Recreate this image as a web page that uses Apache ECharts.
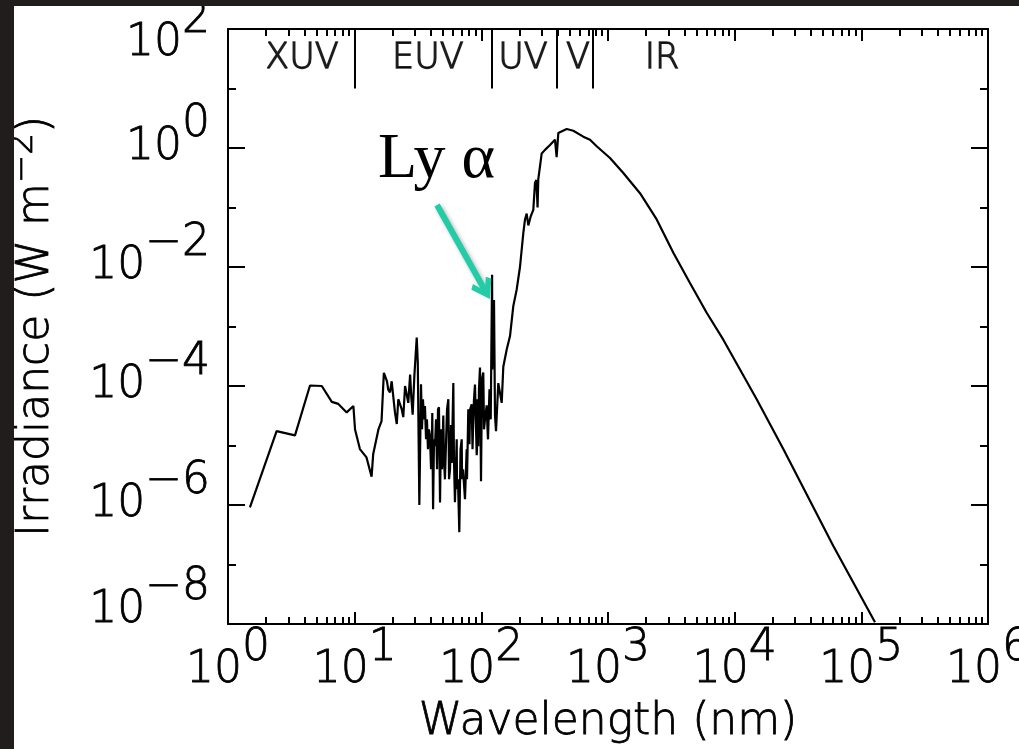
<!DOCTYPE html>
<html>
<head>
<meta charset="utf-8">
<script src="https://cdn.jsdelivr.net/npm/echarts@6/dist/echarts.min.js"></script>
<style>
  html, body { margin: 0; padding: 0; width: 1019px; height: 749px; background: #211d1a; overflow: hidden; }
  #chart { position: absolute; left: 14px; top: 6px; width: 1005px; height: 743px; background: #ffffff; }
</style>
</head>
<body>
<div id="chart"></div>
<script>
// Solar spectral irradiance (W m^-2 nm^-1) from X-rays to the far infrared.
const wavelengthNm = [
  1.49, 2.42, 3.38, 4.44, 5.5, 6.6, 7.43, 8.65, 9.77, 10.07,
  11.0, 12.4, 13.6, 14.0, 15.4, 16.3, 17.0, 18.0, 18.4, 19.0,
  19.6, 20.8, 21.5, 22.1, 23.5, 24.2, 25.0, 26.5, 27.4, 28.0,
  28.7, 29.6, 30.9, 31.5, 32.4, 33.4, 34.0, 34.6, 35.3, 35.9,
  36.6, 37.2, 37.9, 38.6, 39.3, 40.1, 40.6, 41.0, 41.6, 42.3,
  43.1, 43.9, 44.7, 45.5, 46.3, 47.2, 48.0, 48.9, 50.1, 50.7,
  51.6, 53.6, 54.9, 55.6, 56.6, 57.6, 58.4, 60.1, 60.8, 61.9,
  63.9, 64.3, 65.4, 67.0, 68.5, 70.0, 70.4, 71.7, 73.4, 74.3,
  76.6, 77.1, 78.9, 80.6, 81.4, 83.9, 85.2, 86.0, 87.5, 89.1,
  91.9, 92.4, 93.3, 94.6, 95.8, 97.6, 99.4, 101.2, 103.6, 105.0,
  106.9, 110.2, 111.9, 112.9, 116.0, 118.6, 121.6, 122.0, 125.9, 128.2,
  130.6, 136.1, 144.8, 149.1, 158.6, 168.4, 178.8, 190.2, 201.9, 208.2,
  214.5, 221.2, 228.0, 235.0, 245.0, 257.2, 265.3, 272.0, 278.0, 281.6,
  290.5, 299.6, 318.2, 348.4, 381.6, 393.0, 405.2, 472.0, 532.1, 638.3,
  721.0, 814.0, 1037, 1321, 1789, 2423, 3279, 4437, 6011, 8133,
  11015, 14920, 24210, 60100, 128200
];
const irradiance = [
  9.1e-7, 1.74e-5, 1.48e-5, 1.02e-4, 1.0e-4, 5.4e-5, 5.0e-5, 3.6e-5, 4.6e-5, 1.86e-5,
  8.7e-6, 6.3e-6, 3.0e-6, 7.1e-6, 1.86e-5, 2.57e-5, 1.66e-4, 1.2e-4, 8.7e-5, 7.8e-5,
  1.2e-4, 3.6e-5, 2.3e-5, 6.0e-5, 4.1e-5, 3.0e-5, 1.0e-4, 5.2e-5, 1.55e-4, 6.5e-5,
  3.3e-5, 1.48e-4, 6.5e-4, 2.5e-4, 1.0e-6, 1.07e-4, 1.87e-5, 6.0e-5, 2.75e-5, 4.6e-5,
  1.27e-5, 2.75e-5, 8.63e-6, 1.87e-5, 1.45e-5, 3.99e-6, 5.9e-6, 3.5e-5, 8.5e-7, 1.27e-5,
  9.8e-6, 2.75e-5, 3.99e-6, 4.05e-5, 4.4e-5, 1.1e-6, 1.87e-5, 3.99e-6, 3.2e-5, 5.86e-6,
  2.7e-6, 4.05e-5, 6.0e-5, 2.71e-6, 4.0e-6, 2.2e-5, 5.1e-6, 1.12e-4, 5.86e-6, 1.11e-6,
  1.27e-5, 1.84e-6, 2.71e-6, 3.5e-7, 8.63e-6, 1.27e-5, 2.71e-6, 3.99e-6, 1.84e-6, 1.25e-6,
  8.63e-6, 2.71e-6, 4.05e-5, 1.05e-5, 3.99e-5, 4.91e-5, 8.63e-6, 1.87e-5, 5.96e-5, 1.06e-4,
  6.85e-6, 8.63e-6, 5.96e-5, 9.7e-6, 8.77e-5, 2.05e-4, 2.51e-6, 1.29e-4, 1.69e-4, 1.87e-5,
  2.75e-5, 4.72e-5, 1.87e-5, 1.27e-5, 8.77e-5, 2.75e-5, 7.4e-3, 1.9e-4, 2.8e-3, 3.2e-5,
  1.74e-5, 1.12e-4, 5.2e-5, 2.1e-4, 4.1e-4, 6.9e-4, 2.2e-3, 4.2e-3, 1.0e-2, 1.95e-2,
  3.7e-2, 6.3e-2, 7.9e-2, 5.0e-2, 7.0e-2, 9.1e-2, 0.26, 0.29, 0.10, 0.30,
  0.49, 0.81, 0.93, 1.12, 1.38, 0.70, 1.78, 2.09, 1.95, 1.55,
  1.38, 1.07, 0.68, 0.38, 0.174, 0.063, 0.0174, 5.4e-3, 1.7e-3, 6.0e-4,
  1.9e-4, 6.0e-5, 8.7e-6, 2.04e-7, 1.07e-8
];

// Axis ranges and tick decades (powers of ten)
const xDecadeExponents = [0, 1, 2, 3, 4, 5, 6];
const yDecadeExponents = [-8, -6, -4, -2, 0, 2];
const yOddExponents = [-7, -5, -3, -1, 1];
const minorMultipliers = [2, 3, 4, 5, 6, 7, 8, 9];

// Spectral bands along the top of the frame
const bandNames = ['XUV', 'EUV', 'UV', 'V', 'IR'];
const bandLabelNm = [3.84, 37.9, 213, 580, 2670];
const bandLabelLevel = 32;
const bandEdgesNm = [10, 120, 395, 760];
const bandEdgeSpan = [100, 10];

// Lyman-alpha annotation
const lyAlphaText = 'Ly \u03b1';
const lyArrowFrom = [44.7, 0.11];
const lyArrowTo = [105.3, 4.26e-3];

const FONT = '"DejaVu Sans", sans-serif';
const INK = '#000000';
const ARROW = '#22cca6';
const ARROW_HEAD = 'path://M5,0L10,7.5L8.2,9.3L5,4.3L1.8,9.3L0,7.5Z M4.2,2.5L5.8,2.5L5.8,10L4.2,10Z';

const xMin = Math.pow(10, xDecadeExponents[0]);
const xMax = Math.pow(10, xDecadeExponents[xDecadeExponents.length - 1]);
const yMinExp = yDecadeExponents[0];
const yMaxExp = yDecadeExponents[yDecadeExponents.length - 1];

// minor tick positions expressed as exponents (2..9 inside each decade)
const xMinorExp = [];
for (let d = xDecadeExponents[0]; d < xDecadeExponents[xDecadeExponents.length - 1]; d++) {
  minorMultipliers.forEach(m => xMinorExp.push(d + Math.log10(m)));
}

const spectrum = wavelengthNm.map((w, i) => [w, irradiance[i]]);
const bandPoints = bandNames.map((n, i) => ({ name: n, value: [bandLabelNm[i], bandLabelLevel] }));
const bandEdgeLines = bandEdgesNm.map(w => [{ coord: [w, bandEdgeSpan[0]] }, { coord: [w, bandEdgeSpan[1]] }]);

// thin sans lettering, darkened with a hairline outline
const txt = { fontFamily: FONT, fontWeight: 200, fontSize: 44, color: INK, textBorderColor: INK, textBorderWidth: 0.8 };
function rs(extra) { return Object.assign({}, txt, extra); }

function supText(e) { return e < 0 ? '\u2212' + (-e) : String(e); }

function xLabel(v) {
  const e = Math.round(Math.log10(v));
  return '{xb|10}{xs|' + supText(e) + '}';
}
function yLabel(v) {
  const e = Math.round(Math.log10(v));
  const k = e === yMaxExp ? 'T' : (e === yMinExp ? 'B' : 'M');
  return '{b' + k + '|10}{s' + k + '|' + supText(e) + '}';
}

const frameLine = { show: true, onZero: false, lineStyle: { color: INK, width: 2 } };
const noLine = { show: false, onZero: false };
const noSplit = { show: false };

const chart = echarts.init(document.getElementById('chart'), null, { renderer: 'canvas' });

chart.setOption({
  animation: false,
  backgroundColor: '#ffffff',
  grid: { left: 214, top: 23, right: 31, bottom: 125, containLabel: false, outerBoundsMode: 'none' },
  xAxis: [
    {
      type: 'log', logBase: 10, min: xMin, max: xMax, interval: 1, position: 'bottom',
      axisLine: frameLine,
      axisTick: { show: true, inside: true, length: 12, lineStyle: { color: INK, width: 2 } },
      splitLine: noSplit,
      axisLabel: {
        show: true, interval: 0, margin: 3, formatter: xLabel,
        showMinLabel: true, showMaxLabel: true, hideOverlap: false,
        rich: {
          xb: rs({ verticalAlign: 'bottom', height: 44, lineHeight: 66 }),
          xs: rs({ verticalAlign: 'top', height: 44, lineHeight: 44 })
        }
      },
      name: 'Wavelength (nm)', nameLocation: 'middle', nameGap: 77,
      nameTextStyle: rs({ lineHeight: 44 })
    },
    {
      type: 'value', min: xDecadeExponents[0], max: xDecadeExponents[xDecadeExponents.length - 1],
      position: 'bottom', axisLine: noLine, splitLine: noSplit, axisLabel: { show: false },
      axisTick: { show: true, inside: true, length: 7, customValues: xMinorExp, lineStyle: { color: INK, width: 2 } }
    },
    {
      type: 'value', min: xDecadeExponents[0], max: xDecadeExponents[xDecadeExponents.length - 1],
      interval: 1, position: 'top', axisLine: frameLine, splitLine: noSplit, axisLabel: { show: false },
      axisTick: { show: true, inside: true, length: 12, lineStyle: { color: INK, width: 2 } }
    },
    {
      type: 'value', min: xDecadeExponents[0], max: xDecadeExponents[xDecadeExponents.length - 1],
      position: 'top', axisLine: noLine, splitLine: noSplit, axisLabel: { show: false },
      axisTick: { show: true, inside: true, length: 7, customValues: xMinorExp, lineStyle: { color: INK, width: 2 } }
    }
  ],
  yAxis: [
    {
      type: 'log', logBase: 10, min: Math.pow(10, yMinExp), max: Math.pow(10, yMaxExp), interval: 2,
      position: 'left',
      axisLine: frameLine,
      axisTick: { show: true, inside: true, length: 17, lineStyle: { color: INK, width: 2 } },
      splitLine: noSplit,
      axisLabel: {
        show: true, interval: 0, margin: 18, formatter: yLabel,
        showMinLabel: true, showMaxLabel: true, hideOverlap: false,
        rich: {
          bM: rs({ verticalAlign: 'middle', height: 44, lineHeight: 90 }),
          sM: rs({ verticalAlign: 'top', height: 44, lineHeight: 44 }),
          bT: rs({ verticalAlign: 'bottom', height: 60, lineHeight: 90 }),
          sT: rs({ verticalAlign: 'top', height: 74, lineHeight: 74 }),
          bB: rs({ verticalAlign: 'top', height: 64, lineHeight: 90 }),
          sB: rs({ verticalAlign: 'top', height: 18, lineHeight: 18 })
        }
      },
      name: '{tb|Irradiance (W m}{ts|\u22122}{tb|)}',
      nameLocation: 'middle', nameRotate: 90, nameGap: 169,
      nameTextStyle: {
        rich: {
          tb: rs({ verticalAlign: 'bottom', height: 44, lineHeight: 66 }),
          ts: rs({ fontSize: 34, verticalAlign: 'top', height: 60, lineHeight: 60 })
        }
      }
    },
    {
      type: 'value', min: yMinExp, max: yMaxExp, position: 'left',
      axisLine: noLine, splitLine: noSplit, axisLabel: { show: false },
      axisTick: { show: true, inside: true, length: 8, customValues: yOddExponents, lineStyle: { color: INK, width: 2 } }
    },
    {
      type: 'value', min: yMinExp, max: yMaxExp, interval: 2, position: 'right',
      axisLine: frameLine, splitLine: noSplit, axisLabel: { show: false },
      axisTick: { show: true, inside: true, length: 17, lineStyle: { color: INK, width: 2 } }
    },
    {
      type: 'value', min: yMinExp, max: yMaxExp, position: 'right',
      axisLine: noLine, splitLine: noSplit, axisLabel: { show: false },
      axisTick: { show: true, inside: true, length: 8, customValues: yOddExponents, lineStyle: { color: INK, width: 2 } }
    }
  ],
  series: [
    {
      name: 'Irradiance',
      type: 'line',
      xAxisIndex: 0, yAxisIndex: 0,
      data: spectrum,
      showSymbol: false, symbol: 'none',
      clip: true,
      lineStyle: { color: INK, width: 2.2 },
      z: 3,
      markLine: {
        silent: true, animation: false,
        symbol: ['none', ARROW_HEAD], symbolSize: 23,
        label: { show: false },
        lineStyle: {
          color: ARROW, width: 6, type: 'solid',
          shadowBlur: 4, shadowColor: 'rgba(0,0,0,0.3)', shadowOffsetX: 2, shadowOffsetY: 2
        },
        data: [[{ coord: lyArrowFrom }, { coord: lyArrowTo }]]
      }
    },
    {
      name: 'Bands',
      type: 'scatter',
      xAxisIndex: 0, yAxisIndex: 0,
      data: bandPoints,
      symbolSize: 0,
      silent: true,
      label: {
        show: true, position: 'inside', formatter: p => p.name,
        fontFamily: FONT, fontWeight: 200, fontSize: 35, color: INK,
        textBorderColor: INK, textBorderWidth: 1.3
      },
      markLine: {
        silent: true, animation: false, symbol: ['none', 'none'],
        label: { show: false },
        lineStyle: { color: INK, width: 2, type: 'solid' },
        data: bandEdgeLines
      }
    }
  ],
  graphic: [
    {
      type: 'text', x: 364, y: 154.5, silent: true,
      style: {
        text: lyAlphaText, fill: INK,
        font: '64px "Liberation Serif", "Times New Roman", serif',
        align: 'left', verticalAlign: 'middle'
      }
    }
  ]
});
</script>
</body>
</html>
